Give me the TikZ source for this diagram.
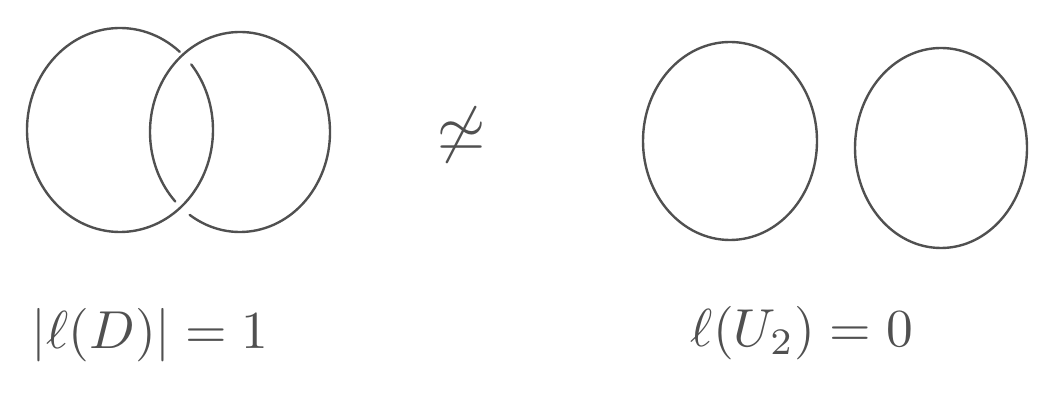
\documentclass[tikz,border=0pt]{standalone}
\usepackage{graphicx}
\usepackage{xcolor}
\definecolor{pencil}{HTML}{505050}

\begin{document}
\begin{tikzpicture}[
  x=0.025cm, y=0.025cm,
  every node/.style={text=pencil, inner sep=0pt},
  strand/.style={line width=1.7pt, pencil, line cap=round}
]
\useasboundingbox (0,0) rectangle (1050,407);

%% Hopf link: two overlapping loops
\coordinate (hopfL) at (120,277);
\coordinate (hopfR) at (240,275);
% left loop, broken where the right loop passes over (top)
\draw[strand] (hopfL) ++(50:93 and 102)
  arc[start angle=50, end angle=400, x radius=93, y radius=102];
% right loop, broken where the left loop passes over (bottom)
\draw[strand] (hopfR) ++(236:90 and 100)
  arc[start angle=236, end angle=584, x radius=90, y radius=100];

%% not equivalent
\node (noteq) at (462,272) {\scalebox{4.4}{$\not\simeq$}};

%% two-component unlink
\coordinate (unknotA) at (730,266);
\coordinate (unknotB) at (941,259);
\draw[strand] (unknotA) ellipse[x radius=87, y radius=99];
\draw[strand] (unknotB) ellipse[x radius=86, y radius=100];

%% labels
\node (hopflabel) at (150,72) {\scalebox{3.8}{$|\ell(D)| = 1$}};
\node (unlinklabel) at (802,74) {\scalebox{3.8}{$\ell(U_2) = 0$}};

\end{tikzpicture}
\end{document}
